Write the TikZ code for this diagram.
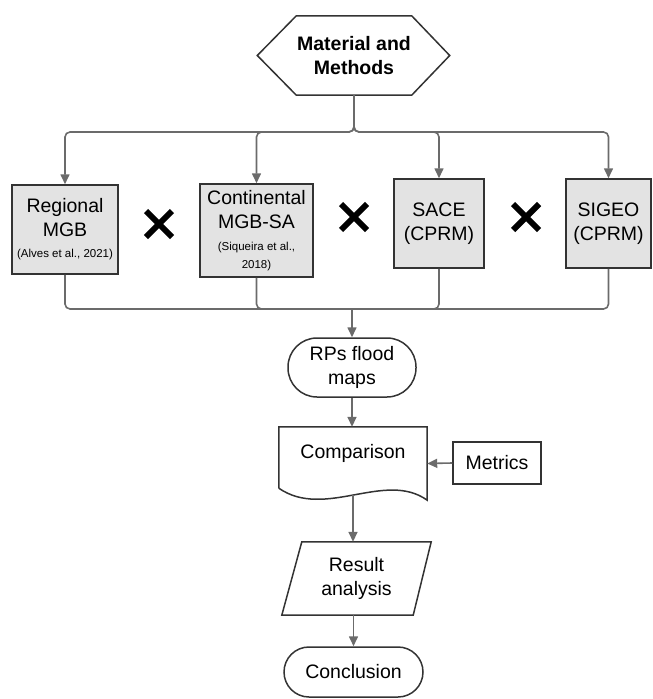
\documentclass[tikz,border=0pt]{standalone}
\usepackage{fontspec}
\setmainfont{Liberation Sans}
\usetikzlibrary{arrows.meta}
\definecolor{lnc}{HTML}{6B6B6B}
\definecolor{bdc}{HTML}{333333}
\definecolor{fillc}{HTML}{E3E3E3}
\newcommand\mainfs{\fontsize{19.5}{24}\selectfont}
\newcommand\smallfs{\fontsize{11.5}{16}\selectfont}
\begin{document}
\begin{tikzpicture}[x=1pt,y=-1pt,
 conn/.style={draw=lnc, line width=1.6pt, rounded corners=5pt},
 arr/.style={conn,-{Triangle[width=9pt,length=10pt]}},
 outl/.style={draw=bdc, line width=1.5pt, line join=miter},
 databox/.style={outl, fill=fillc, align=center, inner sep=0pt, font=\mainfs},
 plain/.style={align=center, inner sep=0pt, font=\mainfs},
 xmark/.style={draw=black, line width=6pt}
]
\useasboundingbox (0,0) rectangle (653,699);

% top hexagon
\node[plain, font=\bfseries\mainfs, minimum width=115pt, minimum height=79pt] (mm) at (354,55.5) {Material and\\Methods};
\draw[outl] (mm.north west) -- (mm.north east) -- ([xshift=38pt]mm.east) -- (mm.south east) -- (mm.south west) -- ([xshift=-39pt]mm.west) -- cycle;

% data boxes
\node[databox, minimum width=106pt, minimum height=89pt] (reg) at (65,229.5)
  {Regional\\MGB\\[-3pt]{\smallfs (Alves et al., 2021)}};
\node[databox, minimum width=113pt, minimum height=93pt] (cont) at (256.5,230.5)
  {Continental\\MGB-SA\\[-2pt]{\smallfs (Siqueira et al.,}\\[-6pt]{\smallfs 2018)}};
\node[databox, minimum width=90pt, minimum height=89pt] (sace) at (439,223.5)
  {SACE\\(CPRM)};
\node[databox, minimum width=85pt, minimum height=89pt] (sigeo) at (608.5,223.5)
  {SIGEO\\(CPRM)};

% crosses
\draw[xmark] (146,211) -- (172,237) (172,211) -- (146,237);
\draw[xmark] (341,204) -- (367,230) (367,204) -- (341,230);
\draw[xmark] (513,204) -- (539,230) (539,204) -- (513,230);

% junctions
\coordinate (top) at (354,132);
\coordinate (bot) at (352,309);

\draw[arr] (mm.south) -- (top) -| (reg.north);
\draw[arr] (mm.south) -- (top) -| (cont.north);
\draw[arr] (mm.south) -- (top) -| (sace.north);
\draw[arr] (mm.south) -- (top) -| (sigeo.north);

\draw[conn] (reg.south) |- (bot);
\draw[conn] (cont.south) |- (bot);
\draw[conn] (sace.south) |- (bot);
\draw[conn] (sigeo.south) |- (bot);

% RPs flood maps
\node[plain, outl, rounded corners=29pt, minimum width=128pt, minimum height=59pt] (rps) at (352,367.5) {RPs flood\\maps};
\draw[arr] (bot) -- (rps.north);

% Comparison (document shape)
\node[inner sep=0pt, minimum width=148pt, minimum height=73pt] (comp) at (353,463.5) {};
\draw[outl] ([yshift=12pt]comp.south west) -- (comp.north west) -- (comp.north east) -- (comp.south east)
  .. controls (385,470) and (325,520) .. ([yshift=12pt]comp.south west);
\node[plain] (comptxt) at ([yshift=-27pt]comp.north) {Comparison};
\draw[arr] (rps.south) -- (rps.south |- comp.north);

% Metrics
\node[plain, outl, minimum width=88pt, minimum height=42pt] (met) at (497,463) {Metrics};
\draw[arr] (met.west) -- (comp.east);

% Result analysis (parallelogram)
\node[plain, minimum width=149pt, minimum height=73pt] (res) at (356.5,578.5) {Result\\analysis};
\draw[outl] ([xshift=20pt]res.north west) -- (res.north east) -- ([xshift=-18pt]res.south east) -- (res.south west) -- cycle;
\draw[arr] ([yshift=5pt]comp.south) -- (comp.south |- res.north);

% Conclusion
\node[plain, outl, rounded corners=25pt, minimum width=139pt, minimum height=50pt] (concl) at (353.5,672) {Conclusion};
\draw[arr] (res.south -| concl.north) -- (concl.north);
\end{tikzpicture}
\end{document}
